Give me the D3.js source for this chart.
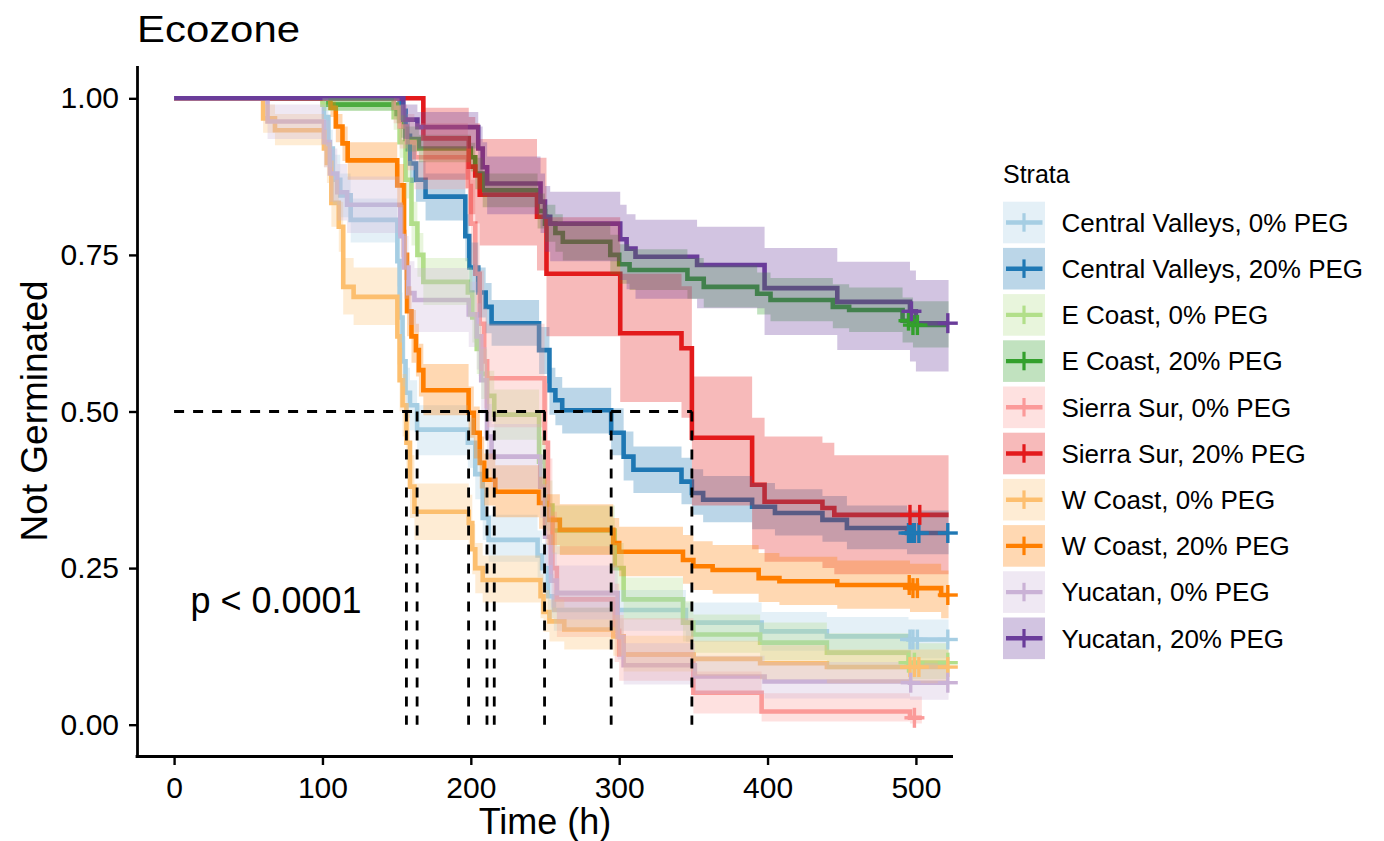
<!DOCTYPE html>
<html><head><meta charset="utf-8">
<script src="https://cdn.jsdelivr.net/npm/d3@7"></script>
<style>
body{margin:0;background:#fff}
text{font-family:"Liberation Sans",Arial,Helvetica,sans-serif;fill:#000}
</style>
</head><body>
<svg id="chart" width="1384" height="841"></svg>
<script>
// ---------------- data ----------------
const strata = ["Central Valleys, 0% PEG","Central Valleys, 20% PEG","E Coast, 0% PEG","E Coast, 20% PEG",
  "Sierra Sur, 0% PEG","Sierra Sur, 20% PEG","W Coast, 0% PEG","W Coast, 20% PEG","Yucatan, 0% PEG","Yucatan, 20% PEG"];
const palette = ["#A6CEE3","#1F78B4","#B2DF8A","#33A02C","#FB9A99","#E31A1C","#FDBF6F","#FF7F00","#CAB2D6","#6A3D9A"];

const timeCV0  = [0,101,104,107,112,119,150.5,152,154,156,159,163.8,198,203,208,212,245,248,252,256,345,396,440,495];
const survCV0  = [1,0.97,0.92,0.87,0.845,0.806,0.74,0.65,0.58,0.53,0.51,0.471,0.45,0.40,0.33,0.295,0.27,0.25,0.205,0.183,0.163,0.149,0.141,0.136];
const lowCV0   = [1,0.95,0.89,0.83,0.81,0.77,0.70,0.61,0.54,0.49,0.47,0.43,0.41,0.36,0.295,0.26,0.235,0.215,0.17,0.15,0.132,0.118,0.111,0.106];
const upCV0    = [1,0.99,0.95,0.91,0.88,0.84,0.78,0.69,0.62,0.57,0.55,0.51,0.49,0.44,0.37,0.335,0.31,0.29,0.24,0.215,0.195,0.18,0.172,0.168];
const censCV0  = [496,498,501,521.5];

const timeCV20 = [0,152,156,159,163,169.5,196.3,199,205,210,214,246,253,257,261.6,294.6,303,309.6,342,349,356.6,389.6,405,437,453.5,494];
const survCV20 = [1,0.98,0.94,0.896,0.87,0.843,0.78,0.73,0.69,0.667,0.641,0.598,0.534,0.518,0.502,0.466,0.428,0.407,0.388,0.37,0.359,0.348,0.338,0.327,0.314,0.306];
const lowCV20  = [1,0.965,0.915,0.865,0.835,0.805,0.74,0.69,0.65,0.625,0.605,0.56,0.495,0.478,0.465,0.43,0.39,0.37,0.352,0.335,0.323,0.312,0.302,0.292,0.28,0.272];
const upCV20   = [1,0.995,0.965,0.925,0.9,0.88,0.815,0.77,0.73,0.705,0.678,0.635,0.57,0.555,0.538,0.505,0.468,0.444,0.426,0.408,0.397,0.386,0.376,0.365,0.35,0.342];
const censCV20 = [495,497,499,502,521.5];

const timeEC0  = [0,100,148,152,156,160,164,168,198,201,204,207,211,215.8,246,250,255,297,303,343,350,395,440,495];
const survEC0  = [1,0.99,0.97,0.93,0.87,0.80,0.75,0.707,0.69,0.65,0.60,0.56,0.525,0.495,0.42,0.35,0.31,0.25,0.20,0.163,0.144,0.131,0.115,0.099];
const lowEC0   = [1,0.98,0.95,0.905,0.84,0.765,0.715,0.67,0.65,0.61,0.56,0.52,0.485,0.455,0.38,0.31,0.272,0.215,0.168,0.133,0.115,0.103,0.088,0.073];
const upEC0    = [1,1,0.99,0.955,0.9,0.835,0.785,0.745,0.73,0.69,0.64,0.6,0.565,0.535,0.46,0.39,0.35,0.29,0.235,0.197,0.176,0.163,0.146,0.13];
const censEC0  = [495,499,521.5];

const timeEC20 = [0,104,150,153,156,165,200,203,208,245,250,257,262,294,300,307,346,357,393,402,444,455,491,498];
const survEC20 = [1,0.99,0.975,0.955,0.935,0.92,0.906,0.88,0.853,0.82,0.80,0.785,0.771,0.75,0.735,0.726,0.712,0.699,0.688,0.678,0.667,0.662,0.645,0.638];
const lowEC20  = [1,0.98,0.96,0.937,0.915,0.898,0.883,0.855,0.826,0.792,0.771,0.755,0.741,0.719,0.704,0.694,0.68,0.666,0.655,0.644,0.633,0.627,0.61,0.602];
const upEC20   = [1,1,0.99,0.973,0.955,0.942,0.929,0.905,0.88,0.848,0.83,0.815,0.802,0.782,0.767,0.759,0.745,0.733,0.722,0.713,0.703,0.698,0.682,0.676];
const censEC20 = [495,498,501];

const timeSS0  = [0,148,152,157,162,198,200,203,206,209,211,249.7,252,255,258,297,300,350,396,496];
const survSS0  = [1,0.985,0.955,0.93,0.906,0.86,0.80,0.72,0.64,0.58,0.553,0.45,0.33,0.25,0.20,0.15,0.112,0.051,0.021,0.011];
const lowSS0   = [1,0.96,0.92,0.885,0.855,0.80,0.735,0.65,0.565,0.505,0.475,0.37,0.255,0.18,0.14,0.10,0.07,0.018,0.005,0.002];
const upSS0    = [1,1,0.99,0.975,0.96,0.92,0.87,0.80,0.725,0.665,0.64,0.545,0.425,0.34,0.285,0.225,0.17,0.085,0.05,0.045];
const censSS0  = [499];

const timeSS20 = [0,168,198.6,203,206,244.6,251,300.7,342,349,389.6,398,437,445];
const survSS20 = [1,0.936,0.891,0.877,0.846,0.811,0.72,0.625,0.601,0.458,0.383,0.356,0.346,0.335];
const lowSS20  = [1,0.87,0.815,0.80,0.765,0.725,0.62,0.515,0.49,0.35,0.28,0.26,0.25,0.24];
const upSS20   = [1,0.985,0.97,0.96,0.935,0.905,0.81,0.72,0.70,0.556,0.49,0.46,0.45,0.43];
const censSS20 = [496,502.6];

const timeWC0  = [0,60,68,101,103,106,111,114,121,150.5,152,154,156.6,159,162,198.6,201,203,208,247,249,253,263,296,303,350,395,440];
const survWC0  = [1,0.968,0.949,0.92,0.897,0.833,0.795,0.699,0.683,0.62,0.55,0.51,0.45,0.38,0.34,0.322,0.28,0.25,0.231,0.205,0.18,0.165,0.152,0.141,0.112,0.105,0.098,0.092];
const lowWC0   = [1,0.945,0.925,0.89,0.865,0.795,0.755,0.655,0.638,0.575,0.50,0.46,0.40,0.33,0.295,0.278,0.24,0.21,0.195,0.17,0.148,0.133,0.12,0.11,0.085,0.078,0.072,0.066];
const upWC0    = [1,0.99,0.975,0.95,0.93,0.87,0.835,0.745,0.73,0.665,0.6,0.56,0.5,0.43,0.385,0.367,0.32,0.29,0.27,0.24,0.215,0.2,0.187,0.175,0.142,0.134,0.127,0.12];
const censWC0  = [496,499,502,521.5];

const timeWC20 = [0,105.4,109,113.5,117,150.4,155,157,160,163,165,168,198.5,202,206,209,216.5,246,251,260,296,300,343,350,363,394,408,447,496,517];
const survWC20 = [1,0.985,0.955,0.928,0.901,0.861,0.75,0.66,0.62,0.598,0.566,0.534,0.498,0.466,0.418,0.391,0.372,0.354,0.327,0.311,0.29,0.276,0.263,0.253,0.247,0.234,0.229,0.223,0.218,0.207];
const lowWC20  = [1,0.97,0.93,0.9,0.87,0.826,0.71,0.62,0.578,0.556,0.524,0.494,0.458,0.425,0.377,0.35,0.331,0.313,0.287,0.271,0.251,0.237,0.225,0.215,0.209,0.196,0.191,0.185,0.18,0.17];
const upWC20   = [1,0.995,0.975,0.955,0.93,0.895,0.79,0.7,0.662,0.64,0.608,0.576,0.54,0.508,0.46,0.433,0.414,0.396,0.368,0.352,0.33,0.316,0.303,0.293,0.287,0.274,0.268,0.262,0.257,0.246];
const censWC20 = [495.5,498,501,521.5];

const timeYU0  = [0,63,101,105,110,116.6,152.5,155,158,162,198.6,204,207,210.9,214,246.8,250,254,258,299,303,351,398,496];
const survYU0  = [1,0.963,0.93,0.88,0.85,0.83,0.78,0.73,0.689,0.678,0.655,0.62,0.55,0.46,0.428,0.38,0.30,0.23,0.21,0.14,0.095,0.077,0.069,0.067];
const lowYU0   = [1,0.935,0.89,0.835,0.805,0.785,0.73,0.68,0.638,0.627,0.603,0.567,0.497,0.408,0.377,0.33,0.253,0.187,0.168,0.104,0.064,0.049,0.042,0.04];
const upYU0    = [1,0.99,0.965,0.92,0.895,0.875,0.83,0.78,0.74,0.729,0.707,0.673,0.603,0.512,0.48,0.43,0.348,0.275,0.254,0.18,0.13,0.11,0.1,0.098];
const censYU0  = [496.5,521.5];

const timeYU20 = [0,154.5,164,205,208,211,247,250,253.5,300.7,305,311,352.5,398,447,496,500];
const survYU20 = [1,0.966,0.954,0.92,0.89,0.864,0.835,0.811,0.80,0.775,0.76,0.747,0.734,0.697,0.675,0.66,0.641];
const lowYU20  = [1,0.935,0.92,0.88,0.845,0.815,0.785,0.755,0.74,0.71,0.695,0.68,0.665,0.622,0.598,0.58,0.564];
const upYU20   = [1,0.99,0.978,0.955,0.93,0.907,0.88,0.86,0.851,0.83,0.815,0.806,0.795,0.761,0.739,0.725,0.71];
const censYU20 = [497,521.5];

const lastTime = [522,522,522,522,504,522,522,522,522,522];
const medianTimes = [156.6,163.8,198.5,210.9,215.8,249.7,294.6,349];
const xTicks = [0,100,200,300,400,500];
const yTicks = [0,0.25,0.5,0.75,1];
const pText = "p < 0.0001";

// ---------------- build series ----------------
const raw = [
  [timeCV0,survCV0,lowCV0,upCV0,censCV0],
  [timeCV20,survCV20,lowCV20,upCV20,censCV20],
  [timeEC0,survEC0,lowEC0,upEC0,censEC0],
  [timeEC20,survEC20,lowEC20,upEC20,censEC20],
  [timeSS0,survSS0,lowSS0,upSS0,censSS0],
  [timeSS20,survSS20,lowSS20,upSS20,censSS20],
  [timeWC0,survWC0,lowWC0,upWC0,censWC0],
  [timeWC20,survWC20,lowWC20,upWC20,censWC20],
  [timeYU0,survYU0,lowYU0,upYU0,censYU0],
  [timeYU20,survYU20,lowYU20,upYU20,censYU20]
];
function survAt(t, s, x){ let v=s[0]; for(let i=0;i<t.length;i++){ if(t[i]<=x) v=s[i]; } return v; }
const series = raw.map((r,k)=>{
  const [t,s,lo,hi,c] = r;
  const pts = t.map((d,i)=>({t:d,s:s[i],lo:lo[i],hi:hi[i]}));
  const last = pts[pts.length-1];
  pts.push({t:lastTime[k],s:last.s,lo:last.lo,hi:last.hi});
  return {name:strata[k],color:palette[k],pts,cens:c.filter(x=>x<=lastTime[k]).map(x=>({t:x,s:survAt(t,s,x)}))};
});

// ---------------- drawing ----------------
const svg = d3.select("#chart");
const x = d3.scaleLinear().domain([-25,525]).range([137,953]);
const y = d3.scaleLinear().domain([-0.05,1.05]).range([756,67]);

const line = d3.line().x(d=>x(d.t)).y(d=>y(d.s)).curve(d3.curveStepAfter);
const area = d3.area().x(d=>x(d.t)).y0(d=>y(d.lo)).y1(d=>y(d.hi)).curve(d3.curveStepAfter);

const plot = svg.append("g");
// survival step lines
plot.selectAll("path.surv").data(series).join("path")
  .attr("class","surv").attr("d",d=>line(d.pts))
  .attr("fill","none").attr("stroke",d=>d.color).attr("stroke-width",4.6)
  .attr("stroke-linejoin","miter");
// confidence ribbons (drawn over the lines, as in the reference)
plot.selectAll("path.ci").data(series).join("path")
  .attr("class","ci").attr("d",d=>area(d.pts))
  .attr("fill",d=>d.color).attr("fill-opacity",0.3).attr("stroke","none");
// censor marks
const cs = 10;
series.forEach(sr=>{
  const g = plot.append("g").attr("stroke",sr.color).attr("stroke-width",3.4);
  sr.cens.forEach(c=>{
    g.append("line").attr("x1",x(c.t)-cs).attr("x2",x(c.t)+cs).attr("y1",y(c.s)).attr("y2",y(c.s));
    g.append("line").attr("x1",x(c.t)).attr("x2",x(c.t)).attr("y1",y(c.s)-cs).attr("y2",y(c.s)+cs);
  });
});
// median lines
const med = plot.append("g").attr("stroke","#000").attr("stroke-width",2.8).attr("stroke-dasharray","10,9");
med.append("line").attr("x1",x(0)).attr("x2",x(d3.max(medianTimes))).attr("y1",y(0.5)).attr("y2",y(0.5));
med.selectAll("line.v").data(medianTimes).join("line").attr("class","v")
  .attr("x1",d=>x(d)).attr("x2",d=>x(d)).attr("y1",y(0.5)).attr("y2",y(0));

// axes
const xAxis = svg.append("g").attr("transform","translate(0,756)")
  .call(d3.axisBottom(x).tickValues(xTicks).tickFormat(d3.format("d")).tickSizeOuter(0).tickSize(9).tickPadding(12));
const yAxis = svg.append("g").attr("transform","translate(137,0)")
  .call(d3.axisLeft(y).tickValues(yTicks).tickFormat(d3.format(".2f")).tickSizeOuter(0).tickSize(8).tickPadding(10));
[xAxis,yAxis].forEach(a=>{
  a.select(".domain").attr("stroke","#000").attr("stroke-width",2.8);
  a.selectAll(".tick line").attr("stroke","#000").attr("stroke-width",2.4);
  a.selectAll(".tick text").attr("font-size",30).attr("fill","#000")
    .attr("font-family","'Liberation Sans',Arial,sans-serif");
});
xAxis.select(".domain").attr("d","M135.6,0.5H953");
yAxis.select(".domain").attr("d","M0.5,66V757.4");

// p value
svg.append("text").attr("x",x(11)).attr("y",y(0.179)).attr("font-size",36).text(pText);

// titles
svg.append("text").attr("x",137).attr("y",42).attr("font-size",36)
  .attr("textLength",163).attr("lengthAdjust","spacingAndGlyphs").text("Ecozone");
svg.append("text").attr("x",545).attr("y",834).attr("text-anchor","middle").attr("font-size",36).text("Time (h)");
svg.append("text").attr("transform","translate(47,411) rotate(-90)").attr("text-anchor","middle")
  .attr("font-size",37).text("Not Germinated");

// legend
const lg = svg.append("g").attr("transform","translate(1003,0)");
lg.append("text").attr("x",0).attr("y",183).attr("font-size",25).text("Strata");
const item = lg.selectAll("g.item").data(series).join("g").attr("class","item")
  .attr("transform",(d,i)=>`translate(0,${201.7+i*46.2})`);
item.append("rect").attr("width",42).attr("height",41.6).attr("fill",d=>d.color).attr("fill-opacity",0.3);
item.append("line").attr("x1",3).attr("x2",39.5).attr("y1",20.8).attr("y2",20.8)
  .attr("stroke",d=>d.color).attr("stroke-width",4.4);
item.append("line").attr("x1",21).attr("x2",21).attr("y1",11.5).attr("y2",30)
  .attr("stroke",d=>d.color).attr("stroke-width",3.2);
item.append("text").attr("x",58.5).attr("y",20.8).attr("dy","0.36em").attr("font-size",26).text(d=>d.name);
</script>
</body></html>
